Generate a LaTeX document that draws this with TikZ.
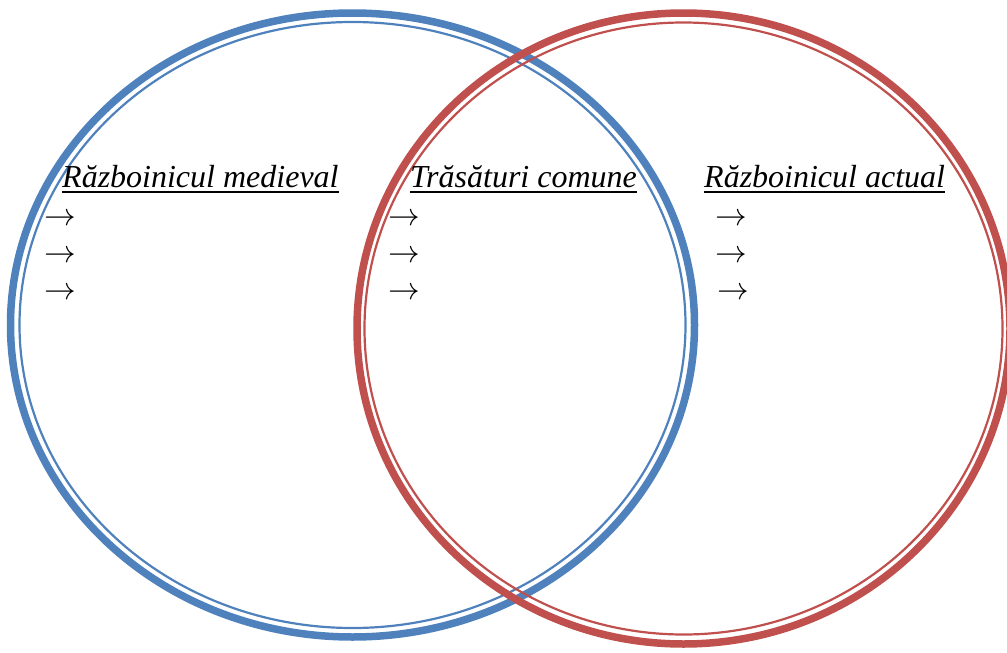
\documentclass[tikz,border=0pt]{standalone}
\usepackage{fontspec}
\setmainfont{Liberation Serif}
\definecolor{vblue}{RGB}{79,129,189}
\definecolor{vred}{RGB}{192,80,77}
\begin{document}
\begin{tikzpicture}[x=1pt,y=-1pt,
  thickring/.style={line width=7.5pt},
  thinring/.style={line width=2.2pt},
  heading/.style={anchor=base west,inner sep=0pt,font=\fontsize{32}{37}\selectfont\itshape},
  arrowtxt/.style={anchor=base west,inner sep=0pt,font=\fontsize{24}{30}\selectfont},
  uline/.style={line width=1.8pt}]
\useasboundingbox (0,0) rectangle (1007,653);
% blue ellipse
\draw[thickring,vblue] (352.5,325) ellipse [x radius=342pt, y radius=312pt];
\draw[thinring,vblue] (352.5,325) ellipse [x radius=333pt, y radius=303pt];
% red ellipse
\draw[thickring,vred] (683.5,328.5) ellipse [x radius=326.5pt, y radius=315.5pt];
\draw[thinring,vred] (683.5,328.5) ellipse [x radius=319pt, y radius=306pt];
% headings
\node[heading] (h1) at (62,187) {Războinicul medieval};
\node[heading] (h2) at (410,187) {Trăsături comune};
\node[heading] (h3) at (704,187) {Războinicul actual};
\draw[uline] ([yshift=-5pt]h1.base west) -- ([yshift=-5pt]h1.base east);
\draw[uline] ([yshift=-5pt]h2.base west) -- ([yshift=-5pt]h2.base east);
\draw[uline] ([yshift=-5pt]h3.base west) -- ([yshift=-5pt]h3.base east);
% arrows
\node[arrowtxt] (a1) at (44,225) {\scalebox{1.27}{$\rightarrow$}};
\node[arrowtxt] (a2) at (44,262) {\scalebox{1.27}{$\rightarrow$}};
\node[arrowtxt] (a3) at (44,299) {\scalebox{1.27}{$\rightarrow$}};
\node[arrowtxt] (b1) at (388,225) {\scalebox{1.27}{$\rightarrow$}};
\node[arrowtxt] (b2) at (388,262) {\scalebox{1.27}{$\rightarrow$}};
\node[arrowtxt] (b3) at (388,299) {\scalebox{1.27}{$\rightarrow$}};
\node[arrowtxt] (c1) at (715,225) {\scalebox{1.27}{$\rightarrow$}};
\node[arrowtxt] (c2) at (715,262) {\scalebox{1.27}{$\rightarrow$}};
\node[arrowtxt] (c3) at (717,299) {\scalebox{1.27}{$\rightarrow$}};
\end{tikzpicture}
\end{document}
